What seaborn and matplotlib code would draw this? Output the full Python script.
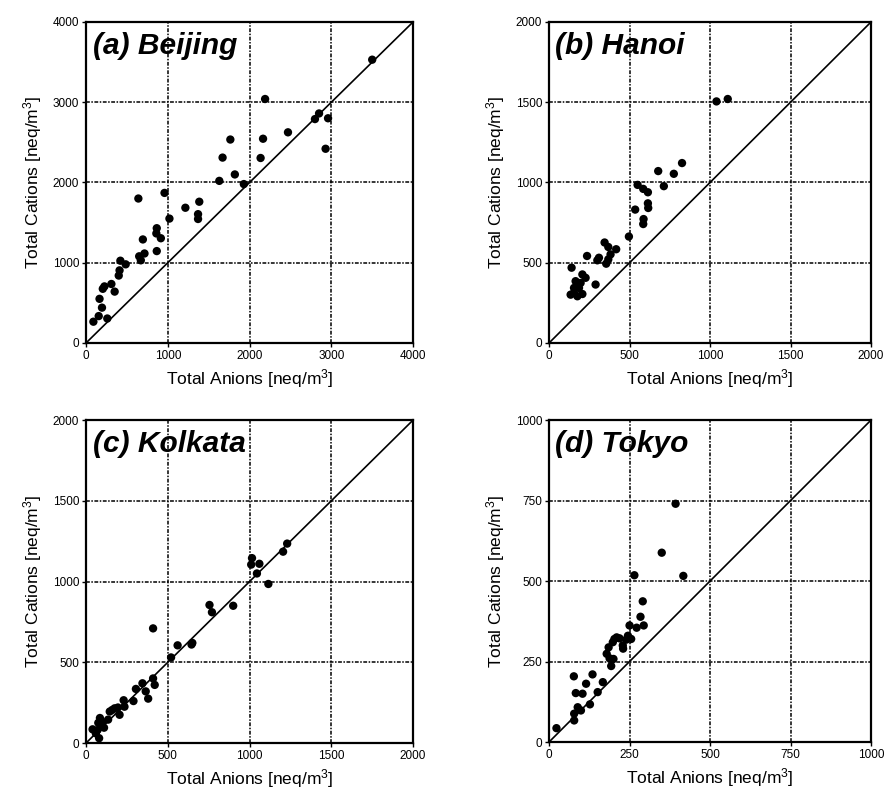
import matplotlib
matplotlib.use('Agg')
import matplotlib.pyplot as plt
import seaborn as sns
import pandas as pd

# Beijing
beijing_anion = [3500, 2190, 2800, 2850, 2960, 2930, 2470, 2165, 2135, 1765, 1670, 1820,
                 1630, 1930, 960, 640, 1215, 1385, 1370, 1370, 1020, 865, 860, 915, 695,
                 865, 650, 715, 670, 420, 485, 410, 400, 310, 350, 225, 205, 165, 195, 155,
                 260, 90]
beijing_cation = [3530, 3040, 2790, 2860, 2800, 2420, 2625, 2545, 2305, 2535, 2310, 2100,
                  2020, 1980, 1870, 1800, 1685, 1760, 1605, 1545, 1550, 1430, 1365, 1305, 1290,
                  1145, 1080, 1115, 1030, 1025, 980, 905, 840, 735, 640, 705, 675, 550, 440, 335,
                  305, 265]

# Hanoi
hanoi_anion = [1040, 1110, 826, 678, 775, 713, 550, 585, 614, 614, 616, 535, 587, 585, 496,
               345, 368, 417, 382, 368, 355, 310, 300, 236, 289, 140, 207, 227, 165, 196,
               155, 134, 176, 207, 155, 186]
hanoi_cation = [1505, 1520, 1121, 1071, 1054, 977, 985, 960, 939, 870, 841, 831, 772, 741, 663,
                626, 598, 584, 552, 521, 494, 531, 515, 542, 364, 469, 427, 406, 385, 374,
                343, 301, 291, 305, 312, 343]

# Kolkata
kolkata_anion = [1230, 1205, 1015, 1010, 1060, 1045, 1115, 900, 755, 770, 650, 645, 560, 520,
                 410, 410, 420, 380, 365, 345, 305, 290, 230, 235, 205, 195, 175, 160, 145,
                 135, 85, 95, 70, 40, 80, 60, 110, 75, 100]
kolkata_cation = [1235, 1185, 1145, 1105, 1110, 1050, 985, 850, 855, 810, 620, 610, 605, 530,
                  710, 400, 360, 275, 320, 370, 335, 260, 265, 225, 175, 220, 215, 205, 195,
                  145, 155, 105, 80, 85, 30, 60, 95, 125, 130]

# Tokyo
tokyo_anion = [393, 350, 417, 265, 291, 284, 294, 272, 250, 255, 240, 229, 219, 203, 198, 185,
               179, 188, 193, 200, 167, 135, 115, 104, 83, 77, 151, 127, 99, 89, 78, 78, 23,
               210, 230, 245]
tokyo_cation = [740, 588, 516, 518, 437, 389, 362, 355, 362, 320, 318, 300, 322, 320, 310, 294,
                274, 260, 236, 258, 186, 210, 181, 150, 152, 204, 155, 117, 98, 108, 88, 67, 43,
                325, 290, 330]

titles = ['(a) Beijing', '(b) Hanoi', '(c) Kolkata', '(d) Tokyo']
limits = [4000, 2000, 2000, 1000]
tick_steps = [1000, 500, 500, 250]

sns.set_style('ticks')
plt.rcParams['font.family'] = ['Liberation Sans', 'DejaVu Sans']
plt.rcParams['mathtext.fontset'] = 'custom'
plt.rcParams['mathtext.rm'] = 'Liberation Sans'
plt.rcParams['text.color'] = 'black'
plt.rcParams['axes.labelcolor'] = 'black'

fig = plt.figure(figsize=(8.87, 7.93), dpi=100)
boxes = [
    [0.097, 0.5675, 0.3687, 0.4048],
    [0.619, 0.5675, 0.363, 0.4048],
    [0.097, 0.063, 0.3687, 0.4073],
    [0.619, 0.0643, 0.363, 0.406],
]
data = [
    (beijing_anion, beijing_cation),
    (hanoi_anion, hanoi_cation),
    (kolkata_anion, kolkata_cation),
    (tokyo_anion, tokyo_cation),
]

for box, (xs, ys), title, lim, step in zip(boxes, data, titles, limits, tick_steps):
    ax = fig.add_axes(box)
    df = pd.DataFrame({'anion': xs, 'cation': ys})
    ticks = list(range(0, lim + 1, step))
    ax.set_xlim(0, lim)
    ax.set_ylim(0, lim)
    ax.set_xticks(ticks)
    ax.set_yticks(ticks)
    ax.grid(True, color='black', linewidth=1.1, linestyle=(0, (2.5, 1.0, 1, 1.0)))
    ax.set_axisbelow(True)
    ax.plot([0, lim], [0, lim], color='black', linewidth=1.2, zorder=2)
    sns.scatterplot(x='anion', y='cation', data=df, ax=ax, color='black',
                    s=36, edgecolor='none', zorder=3, clip_on=False)
    for sp in ax.spines.values():
        sp.set_visible(True)
        sp.set_linewidth(1.6)
        sp.set_color('black')
    ax.tick_params(direction='out', length=3, width=1, labelsize=8.5, pad=2,
                   colors='black')
    ax.set_xlabel('Total Anions [neq/m$\\mathregular{^3}$]', fontsize=12.5, labelpad=4)
    ax.set_ylabel('Total Cations [neq/m$\\mathregular{^3}$]', fontsize=12.5, labelpad=6)
    ax.text(0.02, 0.968, title, transform=ax.transAxes, fontsize=21.5,
            fontweight='bold', fontstyle='italic', va='top', ha='left', zorder=4)

fig.savefig('out.png', dpi=100, facecolor='white')
